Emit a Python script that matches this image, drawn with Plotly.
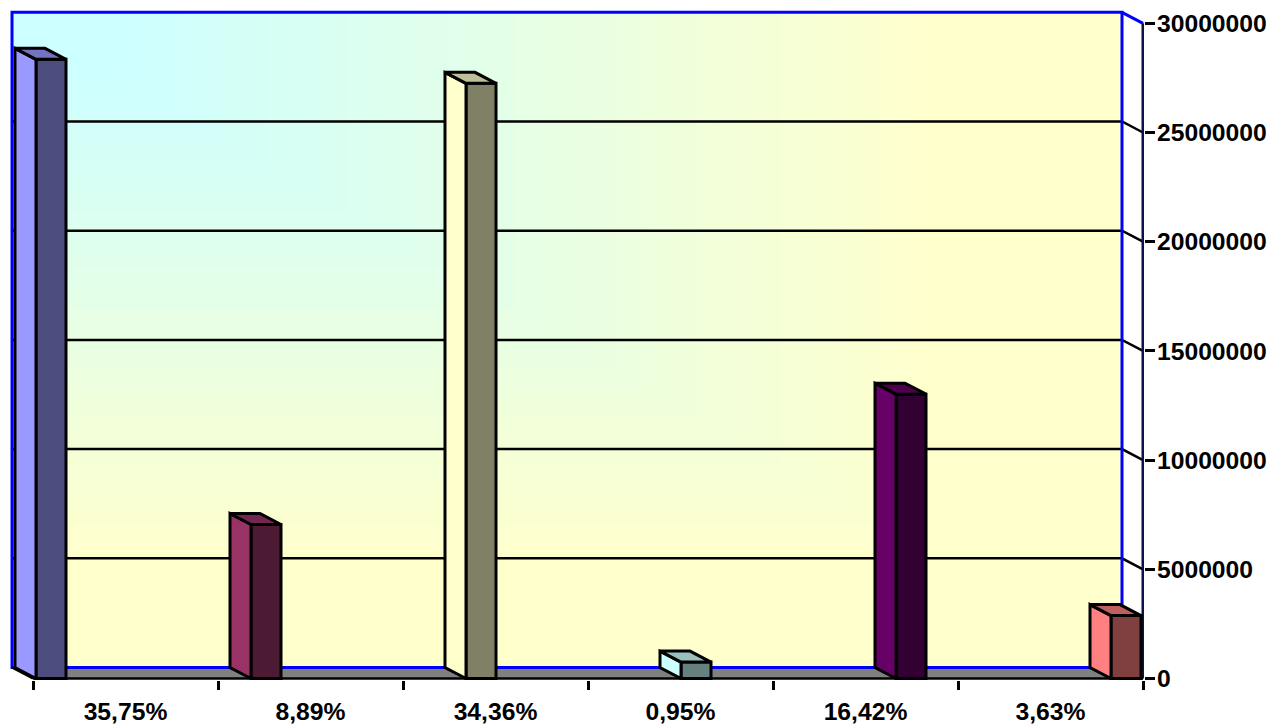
import plotly.graph_objects as go

# ---- data ----
category_labels = ["35,75%", "8,89%", "34,36%", "0,95%", "16,42%", "3,63%"]
values = [28350000, 7050000, 27250000, 750000, 13020000, 2880000]
y_ticks = [0, 5000000, 10000000, 15000000, 20000000, 25000000, 30000000]
side_colors = ["#9999FF", "#993366", "#FFFFCC", "#CCFFFF", "#660066", "#FF8080"]
front_colors = ["#4D4D80", "#4D1A33", "#808066", "#668080", "#330033", "#804040"]
top_colors = ["#7373BF", "#732650", "#BFBF99", "#99BFBF", "#4D004D", "#BF6060"]

# ---- geometry of the pseudo-3D frame, in canvas pixels ----
W, H = 1272, 724
X0, CAT_W = 33, 185          # x of first category boundary, width of a category
Y0, PX_PER_UNIT = 678.5, 109.2 / 5000000
DX, DY = 21, 11              # depth offset of the back wall
BAR_OFF, BAR_W, BAR_STEP = 3 / 185, 30 / 185, 215 / 185
L, R, T, B = 10, 1144, 10, 680


def xd(px):
    return (px - X0) / CAT_W


def yd(py):
    return (Y0 - py) / PX_PER_UNIT


depth_x = DX / CAT_W
depth_y = DY / PX_PER_UNIT
n = len(values)
ymax = y_ticks[-1]
BLACK, BLUE = "#000000", "#0000FF"
LW = 3


def poly(xs, ys):
    return "M " + " L ".join(f"{a},{b}" for a, b in zip(xs, ys)) + " Z"


shapes = []

# back wall: nested corner-anchored rectangles give the stepped corner gradient
wall_x0, wall_x1 = -depth_x, n - depth_x
wall_y0, wall_y1 = depth_y, ymax + depth_y
STEPS = 51
T_START, T_END = 0.08, 0.84
for k in range(STEPS, 0, -1):
    f = (k - 1) / (STEPS - 1)
    col = f"rgb({204 + round(51 * f)},255,{255 - round(51 * f)})"
    t = 1.0 if k == STEPS else T_START + (T_END - T_START) * k / STEPS
    shapes.append(dict(type="rect", layer="below", xref="x", yref="y",
                       x0=wall_x0, x1=wall_x0 + (wall_x1 - wall_x0) * t,
                       y1=wall_y1, y0=wall_y1 - (wall_y1 - wall_y0) * t,
                       fillcolor=col, line=dict(width=0)))

# floor
shapes.append(dict(type="path", layer="below", xref="x", yref="y",
                   path=poly([wall_x0, wall_x1, n, 0], [wall_y0, wall_y0, 0, 0]),
                   fillcolor="#808080", line=dict(width=0)))

# gridlines on the wall and their return to the value axis
for v in y_ticks[1:-1]:
    shapes.append(dict(type="path", layer="below", xref="x", yref="y",
                       path=f"M {wall_x0},{v + depth_y} L {wall_x1},{v + depth_y} L {n},{v}",
                       line=dict(color=BLACK, width=2.5)))

# wall border
shapes.append(dict(type="rect", layer="below", xref="x", yref="y",
                   x0=wall_x0, x1=wall_x1, y0=wall_y0, y1=wall_y1,
                   line=dict(color=BLUE, width=LW)))
shapes.append(dict(type="line", layer="below", xref="x", yref="y",
                   x0=wall_x1, x1=n, y0=wall_y1, y1=ymax,
                   line=dict(color=BLUE, width=LW)))

# floor edges
for xa, ya, xb, yb in [(wall_x0, wall_y0, 0, 0), (wall_x1, wall_y0, n, 0), (0, 0, n, 0)]:
    shapes.append(dict(type="line", layer="below", xref="x", yref="y",
                       x0=xa, y0=ya, x1=xb, y1=yb, line=dict(color=BLACK, width=2.5)))

# value axis line
shapes.append(dict(type="line", layer="below", xref="x", yref="y",
                   x0=n, x1=n, y0=0, y1=ymax, line=dict(color="#10104A", width=LW)))

fig = go.Figure()

bar_left = [BAR_OFF + i * BAR_STEP for i in range(n)]
bar_right = [b + BAR_W for b in bar_left]

# front faces
fig.add_trace(go.Bar(
    x=[b + BAR_W / 2 for b in bar_left], y=values, width=BAR_W,
    marker=dict(color=front_colors, line=dict(color=BLACK, width=LW)),
    cliponaxis=False, hoverinfo="skip", showlegend=False))

# side and top faces, derived from the same values
for i, v in enumerate(values):
    a, b = bar_left[i], bar_right[i]
    fig.add_trace(go.Scatter(
        x=[a, a - depth_x, a - depth_x, a, a],
        y=[0, depth_y, v + depth_y, v, 0],
        mode="lines", fill="toself", fillcolor=side_colors[i],
        line=dict(color=BLACK, width=LW), cliponaxis=False,
        hoverinfo="skip", showlegend=False))
    fig.add_trace(go.Scatter(
        x=[a, a - depth_x, b - depth_x, b, a],
        y=[v, v + depth_y, v + depth_y, v, v],
        mode="lines", fill="toself", fillcolor=top_colors[i],
        line=dict(color=BLACK, width=LW), cliponaxis=False,
        hoverinfo="skip", showlegend=False))

tick_font = dict(family="Liberation Sans, Arial, sans-serif", size=24.7, color="#000000", weight=700)

fig.update_layout(
    width=W, height=H, autosize=False,
    margin=dict(l=L, r=W - R, t=T, b=H - B, pad=0, autoexpand=False),
    paper_bgcolor="#FFFFFF", plot_bgcolor="rgba(0,0,0,0)",
    showlegend=False, shapes=shapes,
    xaxis=dict(range=[xd(L), xd(R)], showgrid=False, zeroline=False, showline=False, automargin=False,
               tickmode="array", tickvals=[i + 0.5 for i in range(n)], ticktext=category_labels,
               ticks="", ticklabelstandoff=14, tickfont=tick_font,
               minor=dict(tickmode="array", tickvals=list(range(n + 1)), ticks="outside",
                          ticklen=9, tickwidth=2.5, tickcolor=BLACK, showgrid=False)),
    yaxis=dict(range=[yd(B), yd(T)], side="right", showgrid=False, zeroline=False, showline=False, automargin=False,
               tickmode="array", tickvals=y_ticks, ticktext=[str(v) for v in y_ticks],
               ticks="outside", ticklen=10, tickwidth=2.5, tickcolor=BLACK, ticklabelstandoff=-3, tickfont=tick_font),
)

fig.write_html("out.html", config=dict(displayModeBar=False),
               post_script="document.body.style.margin='0';document.body.style.overflow='hidden';")
